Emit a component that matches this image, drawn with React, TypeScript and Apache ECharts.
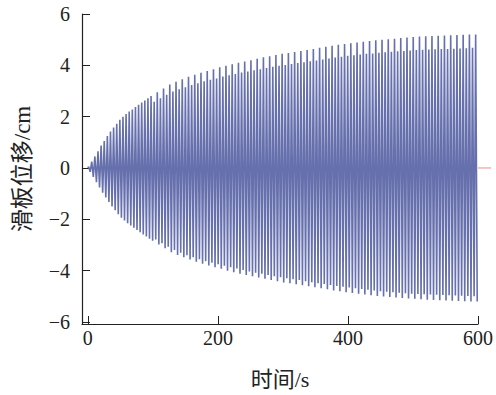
import React, { useEffect, useRef } from "react";
import * as echarts from "echarts";

// Per-cycle positive peaks (cm)
const upperPeaks = [
  0.05, 0.25, 0.45, 0.65, 0.87, 1.05, 1.25, 1.42, 1.58, 1.72,
  1.88, 2.0, 2.1, 2.2, 2.28, 2.38, 2.46, 2.55, 2.63, 2.72,
  2.8, 2.58, 2.95, 2.72, 3.1, 2.85, 3.25, 2.98, 3.36, 3.07,
  3.46, 3.15, 3.55, 3.23, 3.63, 3.3, 3.71, 3.38, 3.78, 3.44,
  3.85, 3.49, 3.92, 3.56, 3.98, 3.61, 4.04, 3.66, 4.1, 3.72,
  4.15, 3.76, 4.2, 3.81, 4.26, 3.85, 4.31, 3.9, 4.35, 3.94,
  4.4, 3.98, 4.45, 4.01, 4.48, 4.05, 4.52, 4.09, 4.56, 4.12,
  4.6, 4.16, 4.64, 4.19, 4.68, 4.23, 4.72, 4.27, 4.76, 4.3,
  4.8, 4.33, 4.83, 4.37, 4.86, 4.39, 4.89, 4.42, 4.92, 4.45,
  4.95, 4.46, 4.98, 4.49, 5.0, 4.51, 5.02, 4.53, 5.04, 4.55,
  5.06, 4.56, 5.08, 4.58, 5.1, 4.6, 5.12, 4.61, 5.13, 4.62,
  5.14, 4.63, 5.15, 4.64, 5.16, 4.64, 5.17, 4.65, 5.18, 4.66,
  5.19, 4.67, 5.2, 4.68, 5.2,
];

// Per-cycle negative peaks (cm)
const lowerPeaks = [
  -0.15, -0.35, -0.55, -0.76, -0.96, -1.15, -1.33, -1.5, -1.65, -1.8,
  -1.94, -2.05, -2.15, -2.24, -2.33, -2.42, -2.5, -2.59, -2.67, -2.76,
  -2.84, -2.79, -2.98, -2.93, -3.13, -3.07, -3.28, -3.2, -3.39, -3.3,
  -3.48, -3.4, -3.57, -3.48, -3.65, -3.56, -3.73, -3.63, -3.8, -3.69,
  -3.87, -3.75, -3.93, -3.81, -4.0, -3.87, -4.06, -3.92, -4.12, -3.98,
  -4.17, -4.03, -4.22, -4.08, -4.27, -4.12, -4.32, -4.17, -4.37, -4.22,
  -4.41, -4.26, -4.46, -4.3, -4.49, -4.34, -4.53, -4.37, -4.57, -4.41,
  -4.61, -4.45, -4.65, -4.49, -4.69, -4.52, -4.73, -4.56, -4.77, -4.6,
  -4.8, -4.63, -4.84, -4.66, -4.87, -4.69, -4.9, -4.72, -4.93, -4.75,
  -4.96, -4.77, -4.99, -4.8, -5.01, -4.82, -5.03, -4.84, -5.05, -4.86,
  -5.07, -4.88, -5.09, -4.9, -5.1, -4.91, -5.12, -4.92, -5.13, -4.93,
  -5.14, -4.94, -5.15, -4.95, -5.16, -4.96, -5.17, -4.97, -5.18, -4.98,
  -5.19, -4.99, -5.2, -5.0, -5.2,
];

const cyclePeriod = 4.8; // s
const xTicks = [0, 200, 400, 600];
const yTicks = [-6, -4, -2, 0, 2, 4, 6];
const refLine = [
  [600, 0],
  [620, 0],
];

export default function App() {
  const ref = useRef<HTMLDivElement>(null);
  useEffect(() => {
    if (!ref.current) return;
    const chart = echarts.init(ref.current, null, { renderer: "svg" });
    const signal: number[][] = [[0, 0]];
    upperPeaks.forEach((u, i) => {
      signal.push([cyclePeriod * i + cyclePeriod * 0.25, u]);
      signal.push([cyclePeriod * i + cyclePeriod * 0.75, lowerPeaks[i]]);
    });
    const font = "'Liberation Serif', 'Times New Roman', 'Noto Sans CJK SC', serif";
    const axisLine = { show: true, onZero: false, lineStyle: { color: "#222", width: 1.2 } };
    chart.setOption({
      animation: false,
      grid: { left: 82, right: 18, top: 14, bottom: 70 },
      xAxis: {
        type: "value",
        min: -9,
        max: 600,
        name: "时间/s",
        nameLocation: "middle",
        nameGap: 44,
        nameTextStyle: { fontFamily: font, fontSize: 22, color: "#222" },
        axisLine,
        axisTick: { show: true, inside: true, length: 8, customValues: xTicks, lineStyle: { color: "#222" } },
        axisLabel: { customValues: xTicks, fontFamily: font, fontSize: 20, color: "#222", margin: 4 },
        splitLine: { show: false },
      },
      yAxis: {
        type: "value",
        min: -6.08,
        max: 6,
        name: "滑板位移/cm",
        nameLocation: "middle",
        nameGap: 48,
        nameTextStyle: { fontFamily: font, fontSize: 23, color: "#222" },
        axisLine,
        axisTick: { show: true, inside: true, length: 8, customValues: yTicks, lineStyle: { color: "#222" } },
        axisLabel: {
          customValues: yTicks,
          fontFamily: font,
          fontSize: 20,
          color: "#222",
          margin: 12,
          formatter: (v: number) => (v < 0 ? "\u2212" + Math.abs(v) : String(v)),
        },
        splitLine: { show: false },
      },
      series: [
        {
          type: "line",
          data: signal,
          symbol: "none",
          lineStyle: { color: "#6670ad", width: 1.6 },
          z: 2,
        },
      ],
    });
    const p0 = chart.convertToPixel({ gridIndex: 0 }, refLine[0]) as number[];
    const p1 = chart.convertToPixel({ gridIndex: 0 }, refLine[1]) as number[];
    chart.setOption({
      graphic: [
        {
          type: "line",
          shape: { x1: p0[0], y1: p0[1], x2: p1[0], y2: p1[1] },
          style: { stroke: "#ee8a8a", lineWidth: 1 },
          z: 1,
        },
      ],
    });
    return () => chart.dispose();
  }, []);
  return (
    <div
      ref={ref}
      style={{ position: "absolute", left: 0, top: 0, width: 496, height: 395 }}
    />
  );
}
